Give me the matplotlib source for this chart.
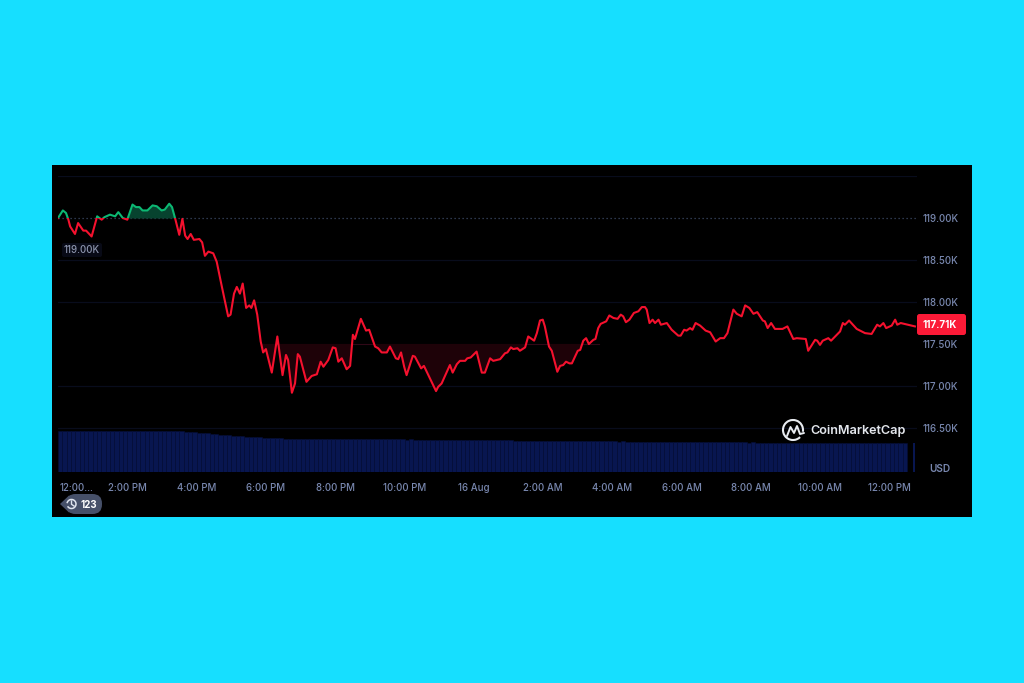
import numpy as np
import matplotlib
matplotlib.use("Agg")
import matplotlib.pyplot as plt
from matplotlib.patches import Rectangle, FancyBboxPatch, Polygon, Arc
from matplotlib.lines import Line2D

plt.rcParams['font.family'] = ['Inter', 'DejaVu Sans']

# hours since midnight of 15 Aug, price in thousands of USD
hours = [12.00, 12.14, 12.23, 12.30, 12.35, 12.49, 12.58, 12.73, 12.81, 12.97, 13.13, 13.26, 13.34, 13.50, 13.65, 13.74,
         13.87, 14.00, 14.15, 14.25, 14.35, 14.44, 14.58, 14.73, 14.85, 14.99, 15.08, 15.21, 15.29, 15.39, 15.50, 15.59,
         15.67, 15.74, 15.83, 15.92, 16.08, 16.16, 16.24, 16.34, 16.48, 16.58, 16.72, 16.91, 16.98, 17.08, 17.16, 17.25,
         17.33, 17.43, 17.52, 17.58, 17.66, 17.75, 17.85, 17.92, 18.00, 18.17, 18.33, 18.48, 18.58, 18.64, 18.75, 18.84,
         18.92, 18.98, 19.17, 19.32, 19.47, 19.58, 19.66, 19.80, 19.93, 20.01, 20.09, 20.19, 20.33, 20.43, 20.51, 20.57,
         20.74, 20.89, 20.98, 21.15, 21.24, 21.34, 21.49, 21.58, 21.75, 21.82, 21.90, 21.99, 22.06, 22.24, 22.30, 22.48,
         22.56, 22.91, 22.97, 23.07, 23.31, 23.39, 23.51, 23.60, 23.75, 23.81, 23.91, 24.08, 24.23, 24.32, 24.47, 24.56,
         24.76, 24.90, 24.97, 25.07, 25.14, 25.26, 25.33, 25.48, 25.57, 25.74, 25.82, 25.91, 25.99, 26.05, 26.17, 26.25,
         26.41, 26.49, 26.58, 26.66, 26.76, 26.83, 27.00, 27.07, 27.16, 27.24, 27.32, 27.45, 27.51, 27.59, 27.66, 27.82,
         27.91, 28.03, 28.15, 28.24, 28.31, 28.39, 28.49, 28.62, 28.75, 28.85, 28.94, 28.99, 29.07, 29.16, 29.23, 29.33,
         29.40, 29.57, 29.71, 29.90, 29.97, 30.07, 30.14, 30.24, 30.31, 30.40, 30.53, 30.69, 30.82, 30.98, 31.11, 31.22,
         31.32, 31.49, 31.59, 31.73, 31.83, 31.95, 32.07, 32.18, 32.34, 32.40, 32.48, 32.58, 32.69, 32.91, 33.05, 33.22,
         33.32, 33.58, 33.65, 33.85, 33.91, 33.99, 34.07, 34.23, 34.31, 34.57, 34.65, 34.71, 34.83, 35.05, 35.29, 35.48,
         35.64, 35.72, 35.82, 35.90, 36.06, 36.16, 36.22, 36.32, 36.73]
price = [119.00, 119.09, 119.06, 118.98, 118.90, 118.81, 118.94, 118.85, 118.85, 118.78, 119.02, 118.98, 119.01, 119.04, 119.02, 119.07,
         119.00, 118.98, 119.16, 119.13, 119.13, 119.09, 119.09, 119.15, 119.14, 119.09, 119.10, 119.17, 119.13, 118.98, 118.80, 118.99,
         118.79, 118.75, 118.81, 118.74, 118.75, 118.71, 118.55, 118.60, 118.58, 118.48, 118.20, 117.83, 117.85, 118.10, 118.18, 118.10,
         118.22, 117.93, 117.96, 117.93, 118.02, 117.85, 117.53, 117.40, 117.44, 117.16, 117.59, 117.13, 117.37, 117.31, 116.92, 117.03,
         117.38, 117.35, 117.05, 117.12, 117.14, 117.29, 117.23, 117.31, 117.46, 117.45, 117.29, 117.33, 117.20, 117.24, 117.61, 117.56,
         117.80, 117.66, 117.67, 117.47, 117.45, 117.40, 117.40, 117.47, 117.33, 117.32, 117.40, 117.23, 117.13, 117.36, 117.35, 117.21,
         117.24, 116.94, 116.99, 117.03, 117.25, 117.16, 117.26, 117.30, 117.30, 117.33, 117.34, 117.41, 117.16, 117.16, 117.33, 117.30,
         117.32, 117.39, 117.40, 117.46, 117.44, 117.45, 117.42, 117.46, 117.59, 117.54, 117.63, 117.78, 117.79, 117.71, 117.47, 117.42,
         117.17, 117.24, 117.25, 117.29, 117.27, 117.27, 117.42, 117.43, 117.54, 117.57, 117.50, 117.55, 117.56, 117.69, 117.74, 117.77,
         117.84, 117.81, 117.80, 117.85, 117.83, 117.76, 117.79, 117.87, 117.89, 117.94, 117.94, 117.91, 117.75, 117.79, 117.75, 117.79,
         117.73, 117.75, 117.67, 117.60, 117.60, 117.67, 117.66, 117.69, 117.67, 117.75, 117.72, 117.66, 117.64, 117.53, 117.57, 117.57,
         117.63, 117.91, 117.86, 117.83, 117.96, 117.93, 117.86, 117.88, 117.78, 117.77, 117.69, 117.75, 117.68, 117.68, 117.71, 117.56,
         117.57, 117.56, 117.42, 117.55, 117.54, 117.49, 117.54, 117.57, 117.54, 117.65, 117.75, 117.73, 117.78, 117.68, 117.63, 117.62,
         117.73, 117.71, 117.75, 117.69, 117.72, 117.79, 117.73, 117.75, 117.71]

# one row per hour, eight bars in each row
volume = [40.6, 40.4, 40.7, 40.5, 40.6, 40.3, 40.6, 40.7,
          40.5, 40.6, 40.4, 40.7, 40.6, 40.5, 40.7, 40.6,
          40.6, 40.7, 40.5, 40.4, 40.6, 40.7, 40.8, 40.6,
          40.2, 40.4, 40.3, 40.2, 40.1, 39.9, 39.8, 39.5,
          39.0, 38.6, 38.2, 37.8, 37.4, 37.0, 36.6, 36.4,
          36.0, 35.7, 35.2, 35.0, 34.6, 34.2, 34.1, 33.8,
          33.6, 33.3, 33.2, 33.1, 33.0, 33.0, 32.9, 32.8,
          32.7, 32.6, 32.6, 32.5, 32.6, 32.4, 32.3, 32.4,
          32.3, 32.3, 32.4, 32.2, 32.3, 32.3, 32.2, 32.3,
          32.2, 32.1, 32.2, 32.2, 32.3, 32.1, 32.2, 32.1,
          32.0, 32.1, 32.0, 32.0, 31.9, 32.0, 31.8, 31.9,
          31.8, 31.7, 31.8, 31.6, 31.7, 31.6, 31.5, 31.6,
          31.5, 31.4, 31.4, 31.3, 31.3, 31.2, 31.3, 31.1,
          31.1, 31.0, 31.0, 30.9, 30.9, 30.8, 30.9, 30.7,
          30.7, 30.6, 30.7, 30.5, 30.6, 30.5, 30.4, 30.5,
          30.4, 30.3, 30.4, 30.2, 30.3, 30.2, 30.2, 30.1,
          30.1, 30.0, 30.1, 29.9, 30.0, 29.9, 29.9, 29.8,
          29.8, 29.7, 29.8, 29.7, 29.7, 29.6, 29.7, 29.5,
          29.6, 29.5, 29.5, 29.4, 29.5, 29.4, 29.4, 29.3,
          29.3, 29.2, 29.3, 29.2, 29.2, 29.1, 29.2, 29.0,
          29.1, 29.0, 29.0, 28.9, 29.0, 28.9, 28.9, 28.8,
          28.8, 28.7, 28.8, 28.7, 28.7, 28.6, 28.7, 28.6,
          28.6, 28.5, 28.6, 28.5, 28.5, 28.4, 28.5, 28.4,
          28.4, 28.3, 28.4, 28.3, 28.3, 28.3, 28.2, 28.3,
          28.2, 28.2, 28.3, 28.2]
last_hour = 36.70
last_volume = 28.2

price_ticks = [119.0, 118.5, 118.0, 117.5, 117.0, 116.5]
price_labels = ['119.00K', '118.50K', '118.00K', '117.50K', '117.00K', '116.50K']
grid_levels = [119.5, 118.5, 118.0, 117.0, 116.5]
time_ticks = [12.53, 14, 16, 18, 20, 22, 24, 26, 28, 30, 32, 34, 36]
time_labels = ['12:00...', '2:00 PM', '4:00 PM', '6:00 PM', '8:00 PM', '10:00 PM', '16 Aug',
               '2:00 AM', '4:00 AM', '6:00 AM', '8:00 AM', '10:00 AM', '12:00 PM']
open_price = 119.0
red_base = 117.5
last_price = '117.71K'

W, H = 1024, 683
CYAN = '#16dfff'
RED = '#f5112e'
GREEN = '#0cb873'
TICK = '#7887ae'


def fx(x):
    return x / W


def fy(y):
    return 1 - y / H


fig = plt.figure(figsize=(W / 100, H / 100), dpi=100, facecolor=CYAN)
fig.patches.append(Rectangle((fx(52), fy(517)), 920 / W, 352 / H, transform=fig.transFigure,
                             facecolor='black', edgecolor='none', zorder=0))

ax = fig.add_axes([fx(58), fy(472), 859 / W, 296 / H])
volax = ax.twinx()
ax.set_zorder(3)
volax.set_zorder(2)
ax.patch.set_visible(False)
volax.patch.set_visible(False)

# volume strip
vol_x = 12 + np.arange(len(volume)) * 0.125
volax.bar(vol_x, volume, width=0.125, align='edge', color='#081650', edgecolor='#050e38', linewidth=0.4)
volax.bar([last_hour], [last_volume], width=0.07, color='#081650')
volax.set_ylim(-0.5, 295.5)
volax.axis('off')

ax.set_xlim(12, 36.79)
ax.set_ylim(115.977, 119.5)

for lev in grid_levels:
    ax.axhline(lev, color='#080c1c', lw=0.9, zorder=1)
ax.axhline(open_price, color='#3d4a66', lw=0.9, ls=(0, (1, 2.2)), zorder=1)
ax.plot([17.9, 27.6], [red_base, red_base], color='#300817', lw=0.8, zorder=1)

h = np.array(hours)
p = np.array(price)
ax.fill_between(h, p, open_price, where=(p >= open_price) & (h > 13.95) & (h < 15.45), interpolate=True,
                color='#07432f', lw=0, zorder=2)
ax.fill_between(h, p, red_base, where=(p <= red_base) & (h < 27.6), interpolate=True,
                color='#1e0208', lw=0, zorder=2)

up, = ax.plot(h, p, color=GREEN, lw=1.5, zorder=4, solid_joinstyle='round')
down, = ax.plot(h, p, color=RED, lw=1.5, zorder=4, solid_joinstyle='round')
up.set_clip_path(Rectangle((12, open_price), 25, 2, transform=ax.transData))
down.set_clip_path(Rectangle((12, 114), 25, 5, transform=ax.transData))

ax.set_xticks(time_ticks)
ax.set_xticklabels(time_labels)
ax.set_yticks(price_ticks)
ax.set_yticklabels(price_labels)
ax.yaxis.tick_right()
ax.tick_params(axis='both', length=0, labelcolor=TICK, labelsize=7)
ax.tick_params(axis='x', pad=8)
ax.tick_params(axis='y', pad=4.3)
for lab in ax.get_xticklabels() + ax.get_yticklabels():
    lab.set_fontweight('medium')
for s in ax.spines.values():
    s.set_visible(False)

# pixel coordinates for tags and icons, y axis flipped
top = fig.add_axes([0, 0, 1, 1], zorder=6)
top.set_xlim(0, W)
top.set_ylim(H, 0)
top.axis('off')

top.text(940, 469, 'USD', color=TICK, fontsize=7.2, fontweight='semibold', ha='center', va='center')

# open price tag
top.add_patch(FancyBboxPatch((62, 243), 40, 14, boxstyle='round,pad=0,rounding_size=2',
                             facecolor='#080a16', edgecolor='none'))
top.text(82, 250, '119.00K', color='#8b93ab', fontsize=7, fontweight='medium', ha='center', va='center')

# last price tag
top.add_patch(FancyBboxPatch((917, 314), 49, 21, boxstyle='round,pad=0,rounding_size=2.5',
                             facecolor='#fb1a37', edgecolor='none'))
top.text(939.5, 325, last_price, color='white', fontsize=7, fontweight='bold', ha='center', va='center')

# history badge
top.add_patch(FancyBboxPatch((66, 494), 36, 20, boxstyle='round,pad=0,rounding_size=9.5',
                             facecolor='#465069', edgecolor='none'))
top.add_patch(Polygon([(60, 504), (69, 495.5), (69, 512.5)], facecolor='#465069', edgecolor='none'))
top.text(89, 504.5, '123', color='white', fontsize=7, fontweight='bold', ha='center', va='center')
top.add_patch(Arc((71.5, 504), 9, 9, theta1=-170, theta2=150, color='#dfe4ee', lw=1.1))
top.add_line(Line2D([71.5, 71.5, 74], [501, 504.3, 506], color='#dfe4ee', lw=1))

# CoinMarketCap logo
top.add_patch(Arc((793, 430), 20, 20, theta1=-315, theta2=10, color='#e8ebf0', lw=1.5))
top.add_line(Line2D([787, 790.5, 794, 797, 800, 804], [436, 427, 433, 426, 434, 433], color='#e8ebf0', lw=1.4,
                    solid_joinstyle='round', solid_capstyle='round'))
top.text(810, 431, 'CoinMarketCap', color='#e4e7ec', fontsize=9.1, fontweight='semibold', ha='left', va='center')

fig.savefig('out.png', dpi=100, facecolor=CYAN)
